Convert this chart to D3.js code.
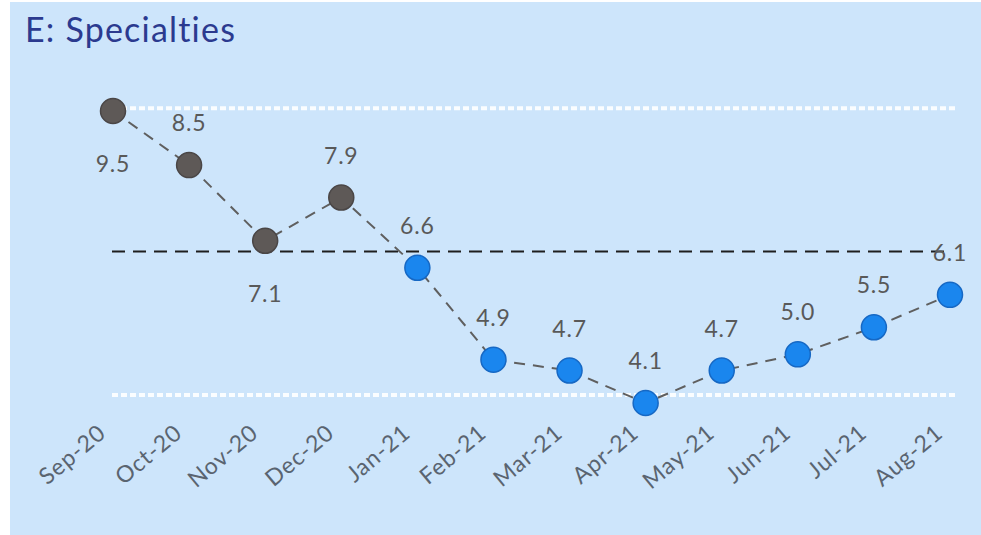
<!DOCTYPE html>
<html>
<head>
<meta charset="utf-8">
<script src="https://cdn.jsdelivr.net/npm/d3@7"></script>
<style>
  html, body { margin: 0; padding: 0; background: #ffffff; }
  svg { display: block; }
</style>
</head>
<body>
<svg id="chart" width="981" height="535"></svg>
<script>
// Monthly run chart for specialties, with centre line and control limits
const months = ["Sep-20", "Oct-20", "Nov-20", "Dec-20", "Jan-21", "Feb-21",
                "Mar-21", "Apr-21", "May-21", "Jun-21", "Jul-21", "Aug-21"];
const values = [9.5, 8.5, 7.1, 7.9, 6.6, 4.9, 4.7, 4.1, 4.7, 5.0, 5.5, 6.1];
// baseline months vs. later months
const phase = ["base", "base", "base", "base", "new", "new",
               "new", "new", "new", "new", "new", "new"];
// which side of the point each value label sits on
const labelSide = ["below", "above", "below", "above", "above", "above",
                   "above", "above", "above", "above", "above", "above"];
const centreLine = 6.9;
const upperLimit = 9.55;
const lowerLimit = 4.25;

const svg = d3.select("#chart");
const W = 981, H = 535;
const font = "Lato, 'Open Sans', sans-serif";

// panel background
svg.append("rect")
  .attr("x", 10).attr("y", 2)
  .attr("width", W - 10).attr("height", H - 2)
  .attr("fill", "#cde5fb");

svg.append("text")
  .attr("x", 25).attr("y", 42)
  .attr("font-family", font)
  .attr("font-size", 34)
  .attr("letter-spacing", 1.2)
  .attr("fill", "#2b3a8f")
  .text("E: Specialties");

const x = d3.scalePoint().domain(months).range([113, 950]);
const y = d3.scaleLinear().domain([4.1, 9.5]).range([403, 111]);

const xStart = 112, xEnd = 955;

// control limits (white dotted)
[upperLimit, lowerLimit].forEach(v => {
  svg.append("line")
    .attr("x1", xStart).attr("x2", xEnd)
    .attr("y1", y(v)).attr("y2", y(v))
    .attr("stroke", "#ffffff")
    .attr("stroke-opacity", 0.9)
    .attr("stroke-width", 4)
    .attr("stroke-dasharray", "6,3");
});

// centre line (black dashed)
svg.append("line")
  .attr("x1", xStart).attr("x2", 950)
  .attr("y1", y(centreLine)).attr("y2", y(centreLine))
  .attr("stroke", "#1e1e1e")
  .attr("stroke-width", 2)
  .attr("stroke-dasharray", "13,8");

// connecting line
const line = d3.line()
  .x((d, i) => x(months[i]))
  .y(d => y(d));
svg.append("path")
  .datum(values)
  .attr("d", line)
  .attr("fill", "none")
  .attr("stroke", "#5f5f5f")
  .attr("stroke-width", 2)
  .attr("stroke-dasharray", "11,8");

// points
svg.selectAll("circle.pt")
  .data(values)
  .join("circle")
  .attr("class", "pt")
  .attr("cx", (d, i) => x(months[i]))
  .attr("cy", d => y(d))
  .attr("r", 12.5)
  .attr("fill", (d, i) => phase[i] === "base" ? "#5e5957" : "#1a86ee")
  .attr("stroke", (d, i) => phase[i] === "base" ? "#4a4646" : "#1668c4")
  .attr("stroke-width", 1.5);

// value labels
svg.selectAll("text.val")
  .data(values)
  .join("text")
  .attr("class", "val")
  .attr("x", (d, i) => x(months[i]))
  .attr("y", (d, i) => y(d) + (labelSide[i] === "above" ? -34 : 61))
  .attr("text-anchor", "middle")
  .attr("font-family", font)
  .attr("font-size", 23)
  .attr("letter-spacing", 0.8)
  .attr("fill", "#595959")
  .text(d => d.toFixed(1));

// month axis labels
const xAxis = d3.axisBottom(x).tickSize(0).tickPadding(0);
const gx = svg.append("g")
  .attr("transform", "translate(0,422)")
  .call(xAxis);
gx.select(".domain").remove();
gx.selectAll("text")
  .attr("font-family", font)
  .attr("font-size", 23)
  .attr("letter-spacing", 1)
  .attr("fill", "#5a6470")
  .attr("text-anchor", "end")
  .attr("dy", "0.75em")
  .attr("transform", "translate(-17,0) rotate(-40)");
</script>
</body>
</html>
